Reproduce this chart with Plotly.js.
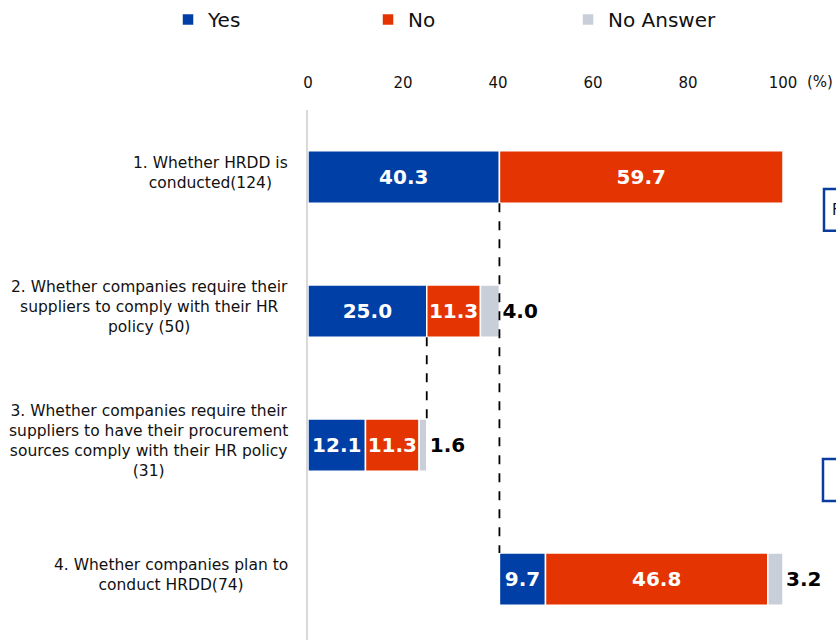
<!DOCTYPE html>
<html>
<head>
<meta charset="utf-8">
<script src="https://cdn.plot.ly/plotly-3.0.1.min.js"></script>
<style>html,body{margin:0;padding:0;background:#fff;}#chart{width:836px;height:640px;}</style>
</head>
<body>
<div id="chart"></div>
<script>
const categories = [
  "1. Whether HRDD is<br>conducted(124)",
  "2. Whether companies require their<br>suppliers to comply with their HR<br>policy (50)",
  "3. Whether companies require their<br>suppliers to have their procurement<br>sources comply with their HR policy<br>(31)",
  "4. Whether companies plan to<br>conduct HRDD(74)"
];
const offsets = [0, 0, 0, 40.3];
const yesValues = [40.3, 25.0, 12.1, 9.7];
const noValues = [59.7, 11.3, 11.3, 46.8];
const noAnswerValues = [null, 4.0, 1.6, 3.2];
const xTicks = [0, 20, 40, 60, 80, 100];

const FONT = "Verdana, 'DejaVu Sans', sans-serif";
const BLUE = "#003fa6", RED = "#e33402", GRAY = "#c9cfd9";
const BW = 0.39;

const baseNo = offsets.map((o, i) => o + yesValues[i]);
const baseNA = baseNo.map((b, i) => b + noValues[i]);
const fmt = v => (v == null ? "" : v.toFixed(1));

const common = {
  type: "bar", orientation: "h", y: categories, width: BW,
  cliponaxis: false, hoverinfo: "skip"
};

const traces = [
  Object.assign({}, common, {
    name: "Yes", x: yesValues, base: offsets,
    marker: {color: BLUE, line: {color: "#ffffff", width: 1.5}},
    text: yesValues.map(fmt), textposition: "inside", insidetextanchor: "middle",
    textfont: {color: "#ffffff", size: 20, family: FONT, weight: "bold"}
  }),
  Object.assign({}, common, {
    name: "No", x: noValues, base: baseNo,
    marker: {color: RED, line: {color: "#ffffff", width: 1.5}},
    text: noValues.map(fmt), textposition: "inside", insidetextanchor: "middle",
    textfont: {color: "#ffffff", size: 20, family: FONT, weight: "bold"}
  }),
  Object.assign({}, common, {
    name: "No Answer", x: noAnswerValues, base: baseNA,
    marker: {color: GRAY, line: {color: "#ffffff", width: 1.5}},
    text: noAnswerValues.map(fmt), textposition: "outside",
    textfont: {color: "#000000", size: 20, family: FONT, weight: "bold"}
  })
];

// dashed connectors
const shapes = [
  {type: "line", xref: "x", yref: "y", x0: yesValues[0], x1: yesValues[0], y0: 0 + BW / 2, y1: 3 - BW / 2,
   line: {color: "#000", width: 1.8, dash: "dash"}},
  {type: "line", xref: "x", yref: "y", x0: yesValues[1], x1: yesValues[1], y0: 1 + BW / 2, y1: 2 - BW / 2,
   line: {color: "#000", width: 1.8, dash: "dash"}},
  {type: "rect", xref: "paper", yref: "paper", x0: 1.0863, x1: 1.3, y0: 0.772, y1: 0.851,
   line: {color: "#0a3ca0", width: 2.5}, fillcolor: "rgba(0,0,0,0)"},
  {type: "rect", xref: "paper", yref: "paper", x0: 1.0842, x1: 1.3, y0: 0.2623, y1: 0.3415,
   line: {color: "#0a3ca0", width: 2.5}, fillcolor: "rgba(0,0,0,0)"}
];

const annotations = categories.map(c => ({
  xref: "paper", yref: "y", x: 0, y: c, xanchor: "right", yanchor: "middle",
  xshift: -18, yshift: 4, align: "center", showarrow: false, text: c,
  font: {family: FONT, size: 15.5, color: "#111"}
}));
annotations.push({xref: "paper", yref: "paper", x: 1, y: 1, xanchor: "left", yanchor: "bottom",
  xshift: 22, yshift: 17, showarrow: false, text: "(%)", font: {family: FONT, size: 15, color: "#111"}});
annotations.push({xref: "paper", yref: "paper", x: 1.099, y: 0.812, xanchor: "left", yanchor: "middle",
  showarrow: false, text: "F", font: {family: FONT, size: 15, color: "#111"}});

const layout = {
  width: 836, height: 640,
  margin: {l: 308, r: 53, t: 110, b: 0, pad: 0},
  paper_bgcolor: "#ffffff", plot_bgcolor: "#ffffff",
  barmode: "overlay",
  uniformtext: {mode: "show", minsize: 20},
  font: {family: FONT, size: 15, color: "#111"},
  showlegend: true,
  legend: {orientation: "h", xref: "paper", yref: "paper", x: -0.2947, y: 1.2075, xanchor: "left", yanchor: "top",
    entrywidth: 155, entrywidthmode: "pixels", font: {family: FONT, size: 20, color: "#111"}, traceorder: "normal"},
  xaxis: {side: "top", range: [0, 100], tickvals: xTicks, ticktext: xTicks.map(String),
    showgrid: false, zeroline: false, showline: false, ticks: "", ticklabelstandoff: 18,
    tickfont: {family: FONT, size: 15, color: "#111"}, fixedrange: true},
  yaxis: {type: "category", range: [3.455, -0.5], showticklabels: false, showgrid: false,
    zeroline: false, showline: true, linecolor: "#d9d9d9", linewidth: 2, ticks: "", fixedrange: true},
  shapes: shapes, annotations: annotations
};

Plotly.newPlot("chart", traces, layout, {staticPlot: true, displayModeBar: false});
</script>
</body>
</html>
